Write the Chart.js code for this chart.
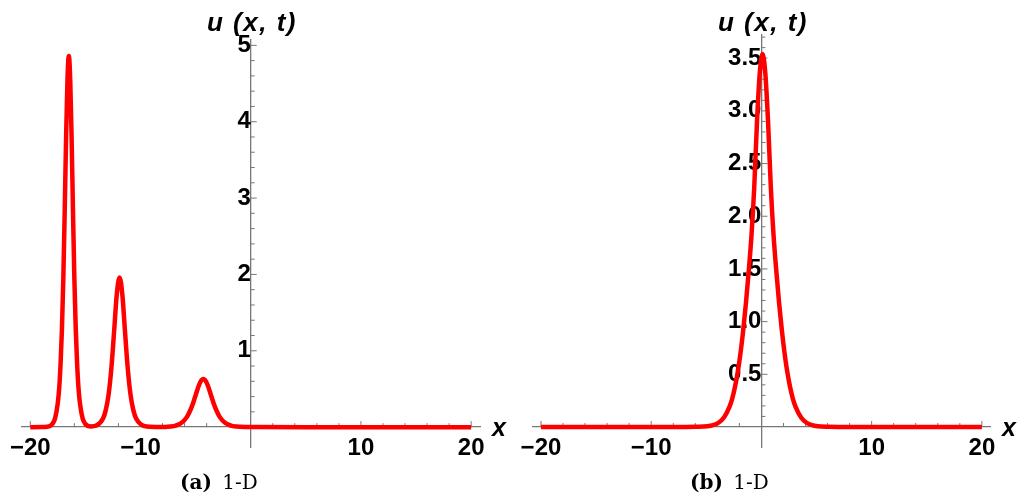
<!DOCTYPE html>
<html>
<head>
<meta charset="utf-8">
<script src="https://cdn.jsdelivr.net/npm/chart.js@4.4.0/dist/chart.umd.min.js"></script>
<style>
  body { margin: 0; background: #fff; width: 1020px; height: 502px; position: relative; overflow: hidden; }
  canvas { position: absolute; top: 0; }
  .ylab { position: absolute; top: 7px; font: bold italic 26px "Liberation Sans", Arial, sans-serif; letter-spacing: 1.5px; transform: translateX(-50%); white-space: pre; color: #000; }
  .xlab { position: absolute; top: 413px; font: bold italic 25px "Liberation Sans", Arial, sans-serif; color: #000; }
  .cap { position: absolute; top: 470px; font: 20px "DejaVu Serif", serif; white-space: pre; color: #000; }
  .cap span { margin-left: 4px; }
</style>
</head>
<body>
<canvas id="plotA" width="510" height="502" style="left:0"></canvas>
<canvas id="plotB" width="510" height="502" style="left:510px"></canvas>
<div class="ylab" style="left:252px">u (x, t)</div>
<div class="ylab" style="left:763px">u (x, t)</div>
<div class="xlab" style="left:492px">x</div>
<div class="xlab" style="left:1002px">x</div>
<div class="cap" style="left:180px"><b>(a)</b> <span>1-D</span></div>
<div class="cap" style="left:690px"><b>(b)</b> <span>1-D</span></div>
<script>
// (a) three solitons
const xLeft = [-20, -19, -18.5, -18, -17.75, -17.5, -17.375, -17.25, -17.125, -17, -16.875, -16.75, -16.625, -16.5,
  -16.375, -16.25, -16.125, -16, -15.875, -15.75, -15.625, -15.5, -15.25, -15, -14.5, -14,
  -13.4, -13.15, -12.9, -12.65, -12.4, -12.15, -11.9, -11.65, -11.4, -11.15, -10.9, -10.65, -10.4, -9.9, -9.4,
  -8.3, -7.3, -6.8, -6.3, -5.8, -5.3, -5.05, -4.8, -4.55, -4.3, -4.05, -3.8, -3.55, -3.3, -2.8, -2.3, -1.8, -1.3,
  -0.3, 0.7, 5, 10, 15, 20];
const uLeft = [0, 0.0005, 0.005, 0.041, 0.115, 0.32, 0.51, 0.83, 1.29, 1.95, 2.83, 3.79, 4.55, 4.86,
  4.55, 3.79, 2.83, 1.95, 1.29, 0.83, 0.51, 0.32, 0.115, 0.041, 0.01, 0.022,
  0.114, 0.223, 0.42, 0.76, 1.24, 1.74, 1.96, 1.74, 1.24, 0.76, 0.42, 0.223, 0.114, 0.029, 0.008,
  0.002, 0.009, 0.021, 0.054, 0.131, 0.285, 0.394, 0.507, 0.596, 0.63, 0.596, 0.507, 0.394, 0.285, 0.131, 0.054, 0.021, 0.009,
  0.002, 0.0003, 0, 0, 0, 0];

// (b) single soliton
const xRight = [-20, -15, -10, -7, -5.9, -4.9, -4.4, -3.9, -3.4, -2.9, -2.65, -2.4, -2.15, -1.9, -1.65, -1.4, -1.15,
  -0.9, -0.65, -0.4, -0.15, 0.1, 0.35, 0.6, 0.85, 1.1, 1.35, 1.6, 1.85, 2.1, 2.35, 2.6, 2.85, 3.1, 3.6, 4.1, 4.6,
  5.1, 6.1, 7, 10, 15, 20];
const uRight = [0, 0, 0, 0.0003, 0.0015, 0.007, 0.017, 0.04, 0.09, 0.19, 0.27, 0.38, 0.52, 0.70, 0.92, 1.18, 1.48,
  1.82, 2.28, 2.90, 3.36, 3.54, 3.36, 2.90, 2.28, 1.82, 1.48, 1.18, 0.92, 0.70, 0.52, 0.38, 0.27, 0.19, 0.09, 0.04, 0.017,
  0.007, 0.0015, 0.0003, 0, 0, 0];

const xTicks = [-20, -10, 10, 20];
const yTicksA = [1, 2, 3, 4, 5];
const yTicksB = [0.5, 1.0, 1.5, 2.0, 2.5, 3.0, 3.5];

const axisColor = '#777';
const tickFont = { family: '"Liberation Sans", Arial, sans-serif', size: 24, weight: 'bold' };

// mathematica style tick marks, drawn inside the axes
const mmaTicks = {
  id: 'mmaTicks',
  beforeDatasetsDraw(chart, args, opts) {
    const ctx = chart.ctx;
    const xs = chart.scales.x, ys = chart.scales.y;
    const x0 = xs.getPixelForValue(0), y0 = ys.getPixelForValue(0);
    ctx.save();
    ctx.strokeStyle = axisColor;
    ctx.lineWidth = 1;
    ctx.beginPath();
    for (let v = -20; v <= 20; v += 2) {
      if (v === 0) continue;
      const p = xs.getPixelForValue(v);
      const len = v % 10 === 0 ? 6 : 4;
      ctx.moveTo(p, y0);
      ctx.lineTo(p, y0 - len);
    }
    for (let i = 1; i * opts.step <= ys.max; i++) {
      const p = ys.getPixelForValue(i * opts.step);
      const len = i % opts.every === 0 ? 6 : 4;
      ctx.moveTo(x0, p);
      ctx.lineTo(x0 + len, p);
    }
    ctx.stroke();
    ctx.restore();
  }
};

function fmt(v) {
  return v < 0 ? '\u2212' + Math.abs(v) : String(v);
}

function makePlot(id, xs, us, yMin, yMax, yTicks, step, every, pad, decimals) {
  const pts = xs.map((x, i) => ({ x: x, y: us[i] }));
  return new Chart(document.getElementById(id), {
    type: 'line',
    data: {
      datasets: [{
        data: pts,
        borderColor: '#ff0000',
        borderWidth: 4.5,
        pointRadius: 0,
        fill: false,
        cubicInterpolationMode: 'monotone'
      }]
    },
    options: {
      responsive: false,
      animation: false,
      layout: { padding: pad },
      plugins: {
        legend: { display: false },
        tooltip: { enabled: false },
        mmaTicks: { step: step, every: every }
      },
      scales: {
        x: {
          type: 'linear',
          min: -20.75,
          max: 20.8,
          position: { y: 0 },
          grid: { display: false, drawTicks: false },
          border: { display: true, color: axisColor, width: 1.3 },
          afterBuildTicks: (s) => { s.ticks = xTicks.map(v => ({ value: v })); },
          ticks: {
            color: '#000',
            font: tickFont,
            padding: 7,
            maxRotation: 0,
            callback: (v) => fmt(v)
          }
        },
        y: {
          type: 'linear',
          min: yMin,
          max: yMax,
          position: { x: 0 },
          grid: { display: false, drawTicks: false },
          border: { display: true, color: axisColor, width: 1.3 },
          afterBuildTicks: (s) => { s.ticks = yTicks.map(v => ({ value: v })); },
          ticks: {
            color: '#000',
            font: tickFont,
            padding: 7,
            callback: (v) => decimals ? v.toFixed(1) : String(v)
          }
        }
      }
    },
    plugins: [mmaTicks]
  });
}

makePlot('plotA', xLeft, uLeft, -0.26, 5.07, yTicksA, 0.2, 5,
  { left: 22, right: 30, top: 40, bottom: 55 }, false);
makePlot('plotB', xRight, uRight, -0.19, 3.72, yTicksB, 0.1, 5,
  { left: 22.7, right: 29.3, top: 35, bottom: 55 }, true);
</script>
</body>
</html>
